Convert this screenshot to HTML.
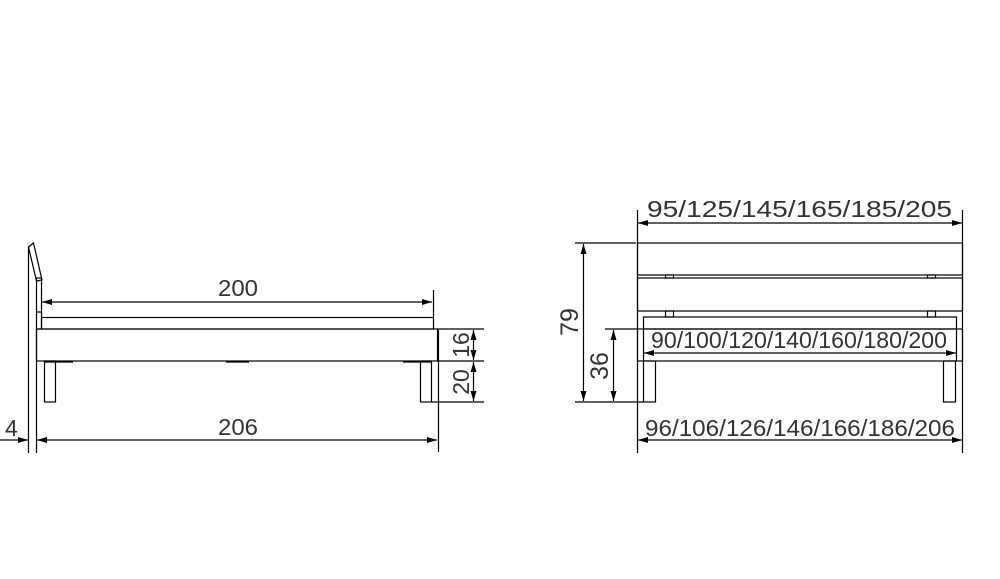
<!DOCTYPE html>
<html><head><meta charset="utf-8"><style>
html,body{margin:0;padding:0;background:#fff;}
svg{display:block;}
text{font-family:"Liberation Sans",sans-serif;font-size:23px;fill:#333;}
</style></head><body>
<svg width="1000" height="579" viewBox="0 0 1000 579" xmlns="http://www.w3.org/2000/svg">
<defs>
<marker id="a" viewBox="0 0 10 6" refX="10" refY="3" markerWidth="10" markerHeight="6" orient="auto-start-reverse" markerUnits="userSpaceOnUse"><path d="M0,0 L10,3 L0,6z" fill="#000"/></marker>
</defs>
<g stroke="#000" stroke-width="1.2" fill="none">
<polygon points="28.5,247 33.5,243 42,280 36.5,281"/>
<line x1="28.5" y1="247" x2="28.5" y2="453"/>
<rect x="36.5" y="278" width="5" height="51"/>
<line x1="36.5" y1="329" x2="36.5" y2="453"/>
<line x1="36.5" y1="312" x2="41.5" y2="312"/>
<rect x="41.5" y="317.5" width="392" height="11.5"/>
<rect x="36.5" y="329" width="401" height="32"/>
<rect x="44.5" y="361" width="11" height="41"/>
<rect x="420.5" y="361" width="11" height="41"/>
<line x1="44" y1="362" x2="73" y2="362"/>
<line x1="226" y1="362" x2="249" y2="362"/>
<line x1="403" y1="362" x2="432" y2="362"/>
<line x1="42" y1="302" x2="432" y2="302" marker-start="url(#a)" marker-end="url(#a)"/>
<line x1="433.5" y1="290" x2="433.5" y2="318"/>
<line x1="437" y1="329" x2="484" y2="329"/>
<line x1="437" y1="361" x2="484" y2="361"/>
<line x1="432" y1="402" x2="484" y2="402"/>
<line x1="473.5" y1="330" x2="473.5" y2="360" marker-start="url(#a)" marker-end="url(#a)"/>
<line x1="473.5" y1="362" x2="473.5" y2="401" marker-start="url(#a)" marker-end="url(#a)"/>
<line x1="438.5" y1="330" x2="438.5" y2="452"/>
<line x1="37" y1="440" x2="437" y2="440" marker-start="url(#a)" marker-end="url(#a)"/>
<line x1="0" y1="440" x2="28" y2="440" marker-end="url(#a)"/>
<line x1="37" y1="440" x2="48" y2="440"/>
<line x1="637.5" y1="210" x2="637.5" y2="453"/>
<line x1="962.5" y1="210" x2="962.5" y2="453"/>
<line x1="638" y1="223" x2="962" y2="223" marker-start="url(#a)" marker-end="url(#a)"/>
<rect x="637.5" y="243" width="325" height="32"/>
<rect x="665.5" y="275" width="8" height="3"/>
<rect x="927.5" y="275" width="8" height="3"/>
<rect x="637.5" y="278" width="325" height="33"/>
<rect x="665.5" y="311" width="8" height="6"/>
<rect x="927.5" y="311" width="8" height="6"/>
<rect x="643.5" y="317" width="313" height="12"/>
<rect x="637.5" y="329" width="325" height="32"/>
<line x1="643.5" y1="329" x2="643.5" y2="361"/>
<line x1="956.5" y1="329" x2="956.5" y2="361"/>
<line x1="644" y1="353" x2="956" y2="353" marker-start="url(#a)" marker-end="url(#a)"/>
<rect x="643.5" y="361" width="12" height="41"/>
<rect x="943.5" y="361" width="12" height="41"/>
<line x1="575" y1="243" x2="636" y2="243"/>
<line x1="575" y1="402" x2="643" y2="402"/>
<line x1="605" y1="329" x2="637" y2="329"/>
<line x1="583.5" y1="244" x2="583.5" y2="401" marker-start="url(#a)" marker-end="url(#a)"/>
<line x1="613.5" y1="330" x2="613.5" y2="401" marker-start="url(#a)" marker-end="url(#a)"/>
<line x1="638" y1="440" x2="962" y2="440" marker-start="url(#a)" marker-end="url(#a)"/>
</g>
<text x="218" y="296" textLength="40" lengthAdjust="spacingAndGlyphs">200</text>
<text x="218" y="435" textLength="40" lengthAdjust="spacingAndGlyphs">206</text>
<text x="5" y="436">4</text>
<text transform="translate(469,345) rotate(-90)" text-anchor="middle">16</text>
<text transform="translate(469,382) rotate(-90)" text-anchor="middle">20</text>
<text x="647" y="217" textLength="305" lengthAdjust="spacingAndGlyphs">95/125/145/165/185/205</text>
<text x="651" y="348" textLength="296" lengthAdjust="spacingAndGlyphs">90/100/120/140/160/180/200</text>
<text x="645" y="436" textLength="310" lengthAdjust="spacingAndGlyphs">96/106/126/146/166/186/206</text>
<text transform="translate(578,322) rotate(-90)" text-anchor="middle" style="font-size:25px">79</text>
<text transform="translate(608,366) rotate(-90)" text-anchor="middle" style="font-size:25px">36</text>
</svg>
</body></html>
